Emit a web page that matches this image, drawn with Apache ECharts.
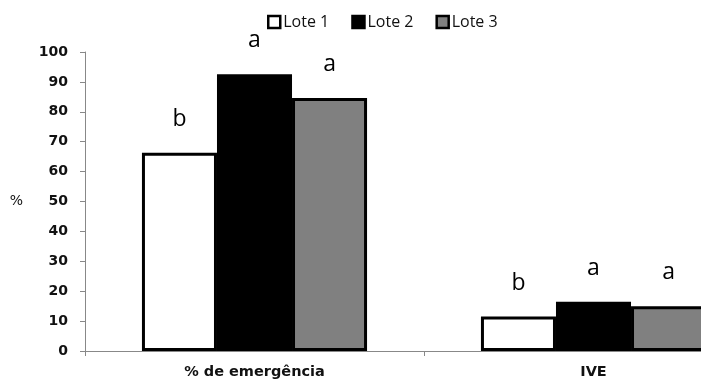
<!DOCTYPE html>
<html>
<head>
<meta charset="utf-8">
<script src="https://cdn.jsdelivr.net/npm/echarts@6/dist/echarts.min.js"></script>
<style>
  html, body { margin: 0; padding: 0; background: #fff; overflow: hidden; }
  #chart { width: 763px; height: 380px; }
</style>
</head>
<body>
<div id="chart"></div>
<script>
var categories = ['% de emergência', 'IVE'];
var lote1 = [66.3, 11.5];
var lote2 = [92.6, 16.5];
var lote3 = [84.6, 15.0];
var letras1 = ['b', 'b'];
var letras2 = ['a', 'a'];
var letras3 = ['a', 'a'];
var yTicks = [0, 10, 20, 30, 40, 50, 60, 70, 80, 90, 100];

function serie(name, values, letters, color) {
  return {
    name: name,
    type: 'bar',
    barGap: '0%',
    barCategoryGap: '33.6%',
    data: values,
    itemStyle: { color: color, borderColor: '#000', borderWidth: 3 },
    label: {
      show: true,
      position: 'top',
      distance: 22,
      fontSize: 23,
      fontFamily: 'Open Sans',
      color: '#000',
      formatter: function (p) { return letters[p.dataIndex]; }
    }
  };
}

var chart = echarts.init(document.getElementById('chart'));
chart.setOption({
  animation: false,
  legend: {
    top: 9,
    left: 262,
    icon: 'rect',
    itemWidth: 12,
    itemHeight: 12,
    itemGap: 22,
    itemStyle: { borderWidth: 2.5, borderColor: '#000' },
    textStyle: { fontFamily: 'Open Sans', fontSize: 16, color: '#111', padding: [0, 0, 0, -2] },
    data: ['Lote 1', 'Lote 2', 'Lote 3']
  },
  grid: { left: 85, right: 0, top: 52, bottom: 27, containLabel: false },
  xAxis: {
    type: 'category',
    data: categories,
    axisLine: { lineStyle: { color: '#888', width: 1 } },
    axisTick: { show: true, length: 5, lineStyle: { color: '#888' } },
    axisLabel: { fontWeight: 'bold', fontSize: 14.5, color: '#111', fontFamily: 'DejaVu Sans', margin: 14 }
  },
  yAxis: {
    type: 'value',
    min: yTicks[0],
    max: yTicks[yTicks.length - 1],
    interval: 10,
    name: '%',
    nameLocation: 'middle',
    nameRotate: 0,
    nameGap: 62,
    nameTextStyle: { fontSize: 14, color: '#111', fontFamily: 'DejaVu Sans', padding: [0, 0, 20, 0] },
    splitLine: { show: false },
    axisLine: { show: true, lineStyle: { color: '#888', width: 1 } },
    axisTick: { show: true, length: 5, lineStyle: { color: '#888' } },
    axisLabel: { fontWeight: 'bold', fontSize: 14, color: '#111', fontFamily: 'DejaVu Sans', margin: 17 }
  },
  series: [
    serie('Lote 1', lote1, letras1, '#fff'),
    serie('Lote 2', lote2, letras2, '#000'),
    serie('Lote 3', lote3, letras3, '#808080')
  ]
});
</script>
</body>
</html>
